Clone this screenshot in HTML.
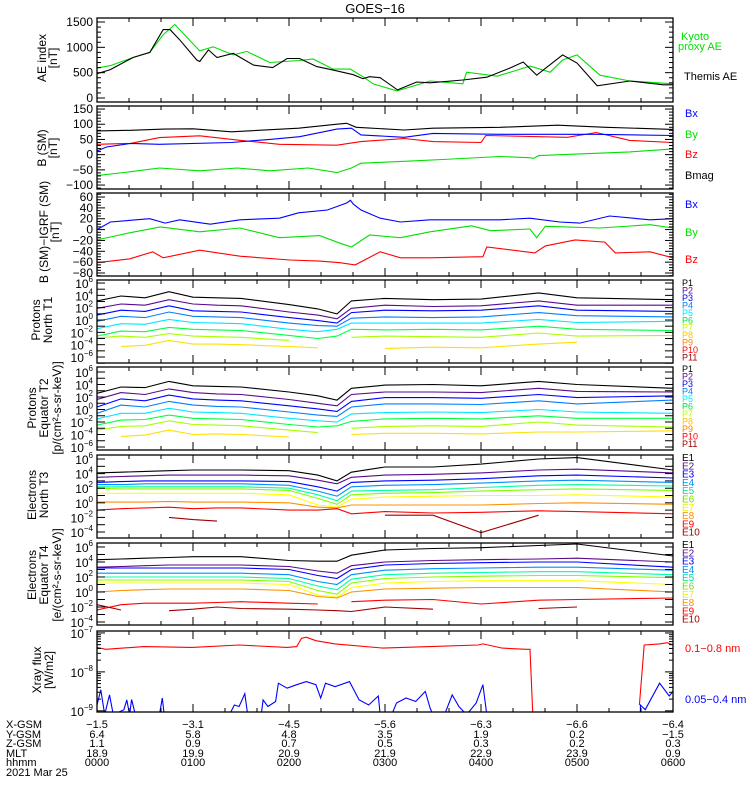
<!DOCTYPE html>
<html><head><meta charset="utf-8"><style>
html,body{margin:0;padding:0;background:#fff;}
svg{display:block;font-family:"Liberation Sans",sans-serif;}
</style></head><body>
<svg id="chart" width="750" height="800" viewBox="0 0 750 800" xmlns="http://www.w3.org/2000/svg">
<rect width="750" height="800" fill="#fff"/>
<text x="375" y="13" text-anchor="middle" font-size="13">GOES−16</text>
</svg>
<script>
// ---------- DATA ----------
const hourTicks = ["0000","0100","0200","0300","0400","0500","0600"];
const xgsm = ["−1.5","−3.1","−4.5","−5.6","−6.3","−6.6","−6.4"];
const ygsm = ["6.4","5.8","4.8","3.5","1.9","0.2","−1.5"];
const zgsm = ["1.1","0.9","0.7","0.5","0.3","0.2","0.3"];
const mlt = ["18.9","19.9","20.9","21.9","22.9","23.9","0.9"];

const aeThemisT = [0,.14,.375,.55,.69,.76,.86,1.04,1.07,1.16,1.25,1.42,1.63,1.83,1.98,2.11,2.29,2.46,2.67,2.77,2.84,2.95,3.13,3.33,3.47,3.81,4.06,4.30,4.44,4.58,4.85,5.0,5.21,5.55,5.90,6.0];
const aeThemisV = [480,560,800,900,1350,1350,1150,750,720,950,800,880,650,600,780,780,620,550,460,380,420,400,160,315,300,355,410,590,710,450,850,690,240,335,260,260];
const aeKyotoT = [0,.14,.375,.55,.69,.81,1.07,1.21,1.42,1.56,1.80,2.11,2.25,2.46,2.64,2.77,2.875,3.125,3.47,3.81,3.85,4.17,4.51,4.72,4.85,5.0,5.24,5.55,6.0];
const aeKyotoV = [590,640,800,900,1250,1450,930,1010,850,920,700,740,770,570,570,420,280,140,335,280,510,430,630,510,750,850,450,335,280];

const bmagT = [0,.35,.7,1.0,1.4,2.1,2.5,2.6,2.7,3.2,3.5,4.2,4.8,5.3,6.0];
const bmagV = [78,80,84,85,75,87,100,103,90,81,87,90,97,90,83];
const bxT = [0,.1,.35,.65,1.4,1.8,2.11,2.5,2.65,2.75,3.2,3.5,4.2,5.2,6.0];
const bxV = [12,25,37,34,40,50,59,84,87,65,57,70,67,67,63];
const bzT = [0,.35,.65,1.07,1.5,1.9,2.5,2.75,3.2,3.5,4.0,4.05,4.9,5.2,5.55,6.0];
const bzV = [34,37,56,62,47,34,31,43,53,43,40,63,57,73,47,40];
const byT = [0,.35,.65,1.07,1.46,1.8,2.2,2.5,2.65,2.75,3.2,3.6,4.2,4.5,4.55,4.6,5.55,6.0];
const byV = [-69,-56,-44,-53,-44,-53,-44,-59,-44,-28,-22,-16,-6,-10,-12,-3,9,19];

const dbxT = [0,.14,.55,.71,.86,1.18,1.49,1.9,2.1,2.4,2.6,2.64,2.67,2.75,2.95,3.16,3.47,4.2,4.51,4.82,5.03,5.34,5.76,6.0];
const dbxV = [0,14,20,12,18,10,18,21,31,36,49,54,47,36,21,14,18,18,21,14,12,25,18,20];
const dbyT = [0,.34,.66,1.07,1.49,1.9,2.32,2.53,2.65,2.84,3.16,3.47,3.9,4.1,4.51,4.58,4.67,5.24,5.76,6.0];
const dbyV = [-19,-6,5,-4,3,-15,-11,-25,-32,-10,-15,-4,7,-2,1,-15,6,3,9,3];
const dbzT = [0,.34,.58,.69,1.07,1.49,2.01,2.32,2.53,2.69,2.95,3.16,3.47,4.02,4.06,4.56,4.67,4.98,5.29,5.4,5.76,6.0];
const dbzV = [-61,-54,-41,-52,-38,-49,-56,-58,-61,-65,-41,-52,-52,-50,-32,-43,-30,-19,-23,-43,-41,-52];

const specT = [0,0.25,0.5,0.75,1.0,1.25,1.5,2.0,2.3,2.5,2.65,3.0,3.5,4.0,4.6,5.0,6.0];
// Protons North T1 (log10 flux)
const pn1 = [3.1,3.9,3.6,4.6,3.7,3.6,3.5,2.5,1.8,1.0,3.1,3.5,3.3,3.4,4.4,3.6,3.3];
const pn2 = [1.9,2.6,2.4,3.3,2.6,2.4,2.3,1.3,0.8,0.2,1.9,2.4,2.2,2.3,3.1,2.4,2.4];
const pn3 = [0.8,1.6,1.4,2.3,1.5,1.4,1.3,0.4,-0.1,-0.5,1.2,1.6,1.5,1.6,2.3,1.6,1.4];
const pn4 = [-0.2,0.6,0.4,1.3,0.6,0.5,0.4,-0.5,-0.9,-1.0,0.3,0.5,0.4,0.5,1.2,0.7,0.5];
const pn5 = [-1.4,-0.6,-0.7,0.1,-0.4,-0.5,-0.6,-1.5,-1.9,-1.5,-0.5,-0.5,-0.5,-0.5,0.1,-0.4,-0.2];
const pn6 = [-2.6,-1.8,-1.9,-1.2,-1.5,-1.6,-1.7,-2.5,-3.0,-2.6,-1.5,-1.6,-1.5,-1.6,-1.0,-1.5,-1.7];
const pn7 = [-2.9,-2.6,-2.8,-2.2,-2.6,-2.7,-2.8,-3.3,null,null,-2.8,-2.6,-2.7,-2.8,-2.1,-2.6,-2.5];
const pn8 = [null,-4.3,-4.1,-3.3,-3.9,-3.9,-4.0,-4.3,-4.5,null,null,-4.6,-4.4,-4.5,-3.9,-3.6,null];
// Protons Equator T2
const pe1 = [2.6,3.6,3.5,4.5,3.8,3.7,3.6,2.8,2.2,1.5,3.4,3.9,4.0,3.8,4.5,4.0,3.4];
const pe2 = [1.6,2.7,2.4,3.3,2.7,2.5,2.4,1.6,1.0,0.6,2.4,2.8,2.8,2.7,3.4,2.9,2.8];
const pe3 = [0.4,1.7,1.4,2.3,1.7,1.5,1.4,0.6,0.1,-0.3,1.3,1.9,1.9,1.8,2.4,1.9,2.2];
const pe4 = [-0.6,0.7,0.4,1.3,0.7,0.5,0.4,-0.4,-0.9,-1.1,0.4,0.9,0.9,0.8,1.4,0.9,1.5];
const pe5 = [-1.5,-0.6,-0.6,0.2,-0.4,-0.5,-0.6,-1.4,-1.8,-2.0,-0.7,-0.5,-0.4,-0.5,0.0,-0.4,-0.6];
const pe6 = [-2.5,-1.7,-1.6,-0.9,-1.4,-1.5,-1.6,-2.4,-2.8,-2.6,-1.9,-1.5,-1.4,-1.5,-1.0,-1.4,-1.4];
const pe7 = [-3.3,-2.7,-2.6,-1.8,-2.4,-2.5,-2.6,-3.3,-3.7,null,-3.0,-2.7,-2.6,-2.7,-2.0,-2.5,-2.8];
const pe8 = [null,-4.3,-4.1,-3.3,-4.0,-3.9,-4.0,-4.4,null,null,-4.0,-3.8,-3.8,-3.9,-3.6,-3.6,-3.4];
// Electrons North T3
const en1 = [4.1,4.2,4.3,4.4,4.5,4.5,4.5,4.4,3.8,3.0,4.2,4.9,4.9,5.3,6.0,6.2,4.5];
const en2 = [3.5,3.6,3.7,3.8,3.8,3.8,3.8,3.7,3.1,2.6,3.5,3.8,3.9,4.1,4.5,4.6,4.1];
const en3 = [2.8,2.9,3.0,3.0,3.0,3.0,3.0,2.9,2.2,1.6,2.8,3.0,3.1,3.3,3.7,3.8,3.4];
const en4 = [2.5,2.5,2.6,2.6,2.6,2.6,2.6,2.4,1.6,0.9,2.2,2.4,2.5,2.7,3.0,3.1,2.8];
const en5 = [2.2,2.2,2.2,2.2,2.2,2.2,2.2,2.0,1.1,0.3,1.6,1.7,1.8,2.1,2.4,2.5,2.3];
const en6 = [2.0,1.9,1.9,1.9,1.9,1.9,1.9,1.7,0.6,-0.2,1.1,1.3,1.4,1.6,1.8,1.9,1.7];
const en7 = [1.3,1.3,1.3,1.3,1.3,1.3,1.3,1.1,-0.3,-0.6,0.5,0.8,0.9,1.0,1.0,1.1,0.8];
const en8 = [0.1,0.1,0.1,0.2,0.1,0.1,0.1,0.0,-0.6,-0.7,-0.3,-0.3,-0.3,-0.3,-0.1,0.0,-0.2];
const en9 = [-1.0,-0.8,-0.7,-0.6,-0.8,-0.7,-0.7,-1.0,-1.0,-0.8,-1.5,-1.2,-1.4,-1.3,-1.1,-1.2,-1.5];
const en10 = [null,null,null,-2.0,-2.3,-2.5,null,-1.7,null,null,null,-1.7,-1.7,-4.1,-1.7,null,null];
// Electrons Equator T4
const ee1 = [4.3,4.4,4.5,4.6,4.7,4.7,4.7,4.2,4.1,4.1,4.9,5.6,5.8,5.9,6.2,6.4,4.8];
const ee2 = [3.3,3.4,3.5,3.6,3.6,3.6,3.6,3.4,2.8,2.5,3.5,4.0,4.2,4.3,4.4,4.5,4.0];
const ee3 = [3.2,3.2,3.2,3.2,3.2,3.2,3.2,3.0,2.2,1.8,3.0,3.6,3.8,3.9,4.0,4.0,3.3];
const ee4 = [2.5,2.5,2.5,2.5,2.5,2.5,2.5,2.3,1.4,1.0,2.3,2.9,3.1,3.2,3.3,3.3,2.9];
const ee5 = [2.0,2.0,2.0,2.0,2.0,2.0,2.0,1.8,0.8,0.3,1.7,2.3,2.5,2.6,2.7,2.7,2.3];
const ee6 = [1.6,1.6,1.6,1.6,1.6,1.6,1.6,1.4,0.2,-0.3,1.2,1.8,2.0,2.1,2.2,2.2,1.9];
const ee7 = [1.2,1.2,1.2,1.2,1.2,1.2,1.2,1.0,-0.4,-0.7,0.6,1.2,1.4,1.5,1.5,1.5,1.0];
const ee8 = [0.0,0.2,0.3,0.4,0.4,0.4,0.4,0.2,-0.6,-0.8,0.0,0.4,0.5,0.6,0.6,0.6,0.0];
const ee9 = [-2.4,-1.7,-1.5,-1.5,-1.5,-1.4,-1.3,-1.5,-1.6,null,-1.3,-1.1,-1.0,-1.6,-1.1,-1.0,-0.8];
const ee10 = [-1.7,-2.4,null,-2.5,-2.3,-2.0,-2.2,-2.3,-2.4,-2.5,-2.6,-2.0,-2.3,null,-2.2,-2.0,null];

// X-ray (log10 W/m2)
const xlongT = [0,.09,.49,.99,1.48,1.98,2.08,2.13,2.18,2.28,2.48,2.98,3.47,3.97,4.02,4.22,4.47,4.51,4.54,null,5.65,5.70,5.86,5.94,6.0];
const xlongV = [-7.37,-7.42,-7.35,-7.37,-7.31,-7.37,-7.35,-7.14,-7.11,-7.2,-7.28,-7.39,-7.35,-7.31,-7.28,-7.39,-7.42,-7.42,-9.1,null,-8.85,-7.31,-7.28,-7.25,-7.31];
const xshortT = [0,.04,.08,.13,.17,.28,.31,.34,.36,.40,.65,.68,.70,1.38,1.43,1.48,1.54,1.57,1.71,1.73,1.78,1.86,1.89,1.98,2.08,2.18,2.28,2.33,2.38,2.48,2.63,2.73,2.83,2.93,2.95,3.07,3.12,3.22,3.32,3.42,3.47,3.50,3.62,3.70,3.77,3.85,3.95,4.02,4.06,5.66,5.66,5.71,5.86,5.96,6.0];
const xshortV = [-8.85,-8.46,-9.1,-8.59,-9.1,-8.97,-8.72,-9.1,-8.71,-9.1,-9.1,-8.67,-9.1,-9.1,-8.85,-8.89,-8.56,-9.1,-9.1,-8.72,-8.89,-8.76,-8.29,-8.42,-8.33,-8.25,-8.33,-8.67,-8.29,-8.38,-8.25,-8.72,-8.85,-8.62,-9.1,-9.1,-8.80,-8.67,-8.76,-8.5,-8.93,-9.1,-9.1,-8.59,-8.89,-9.1,-8.80,-8.33,-9.1,-9.1,-8.85,-8.97,-8.29,-8.62,-8.5];

// ---------- RENDER ----------
const NS = "http://www.w3.org/2000/svg";
const svg = document.getElementById("chart");
const X0 = 97, X1 = 673;
const xs = t => X0 + (X1 - X0) * t / 6;
function el(tag, attrs, parent) {
  const e = document.createElementNS(NS, tag);
  for (const k in attrs) e.setAttribute(k, attrs[k]);
  (parent || svg).appendChild(e);
  return e;
}
function mkPanel(name, top, bottom, vmin, vmax) {
  const g = el("g", {});
  
  
  const cp = el("clipPath", {id: "cp-" + name}, g);
  el("rect", {x: X0, y: top, width: X1 - X0, height: bottom - top}, cp);
  const y = v => bottom - (v - vmin) / (vmax - vmin) * (bottom - top);
  return {g, top, bottom, vmin, vmax, y, name};
}
function frame(p) {
  const r = el("rect", {x: X0, y: p.top, width: X1 - X0, height: p.bottom - p.top, fill: "none", stroke: "#000", "stroke-width": 1.3}, p.g);
  
  
  // x ticks (every 20 min)
  for (let i = 0; i <= 18; i++) {
    const x = xs(i / 3), L = (i % 3 === 0) ? 8 : 4;
    el("line", {x1: x, x2: x, y1: p.top, y2: p.top + L, stroke: "#000"}, p.g);
    el("line", {x1: x, x2: x, y1: p.bottom, y2: p.bottom - L, stroke: "#000"}, p.g);
  }
}
function ytick(p, v, L) {
  const y = p.y(v);
  if (y < p.top - 0.5 || y > p.bottom + 0.5) return;
  el("line", {x1: X0, x2: X0 + L, y1: y, y2: y, stroke: "#000"}, p.g);
  el("line", {x1: X1, x2: X1 - L, y1: y, y2: y, stroke: "#000"}, p.g);
}
function ylabel(p, v, txt) {
  const t = el("text", {x: X0 - 4, y: p.y(v) + 4, "text-anchor": "end", "font-size": 12}, p.g);
  t.textContent = txt;
  
  
}
function ypow(p, e) {
  const t = el("text", {x: X0 - 4, y: p.y(e) + 5, "text-anchor": "end", "font-size": 12}, p.g);
  
  
  const a = el("tspan", {}, t); a.textContent = "10";
  const b = el("tspan", {dy: -6, "font-size": 8}, t); b.textContent = String(e).replace("-", "−");
}
function linPanel(p, step, minor, lblStep) {
  for (let v = Math.ceil(p.vmin / minor) * minor; v <= p.vmax; v += minor) {
    const isMaj = Math.abs(v / step - Math.round(v / step)) < 1e-6;
    ytick(p, v, isMaj ? 8 : 4);
  }
  for (let v = Math.ceil(p.vmin / lblStep) * lblStep; v <= p.vmax; v += lblStep) ylabel(p, v, String(v).replace("-", "−"));
}
function logPanel(p, lblEvery, minorTicks) {
  for (let e = Math.floor(p.vmin); e <= Math.ceil(p.vmax); e++) {
    ytick(p, e, 8);
    if (minorTicks) for (let m = 2; m < 10; m++) ytick(p, e + Math.log10(m), 4);
    if (((e % lblEvery) + lblEvery) % lblEvery === 0 && p.y(e) >= p.top - 1 && p.y(e) <= p.bottom + 1) ypow(p, e);
  }
}
function series(p, T, V, color, name) {
  let d = "", pen = false;
  for (let i = 0; i < T.length; i++) {
    if (T[i] === null || V[i] === null) { pen = false; continue; }
    d += (pen ? "L" : "M") + xs(T[i]).toFixed(1) + " " + p.y(V[i]).toFixed(1);
    pen = true;
  }
  const path = el("path", {d, fill: "none", stroke: color, "stroke-width": 1.1, "clip-path": "url(#cp-" + p.name + ")"}, p.g);
  
  
}
function rlabel(txt, x, y, color, size, name) {
  const t = el("text", {x, y, fill: color, "font-size": size || 11});
  t.textContent = txt;
  
  
}
function ytitle(lines, xsArr, cy, name) {
  lines.forEach((ln, i) => {
    const t = el("text", {x: 0, y: 0, "text-anchor": "middle", "font-size": 12, transform: `translate(${xsArr[i]},${cy}) rotate(-90)`});
    t.textContent = ln;
    
    
  });
}

// Panel 1: AE
const p1 = mkPanel("ae-panel", 18, 102, -79, 1579);
series(p1, aeKyotoT, aeKyotoV, "#00e000", "kyoto-ae-line");
series(p1, aeThemisT, aeThemisV, "#000", "themis-ae-line");
linPanel(p1, 500, 100, 500); frame(p1);
ytitle(["AE index", "[nT]"], [46, 57], 58, "ae-axis-title");
rlabel("Kyoto", 681, 40, "#00e000", 11, "legend-kyoto");
rlabel("proxy AE", 678, 50, "#00e000", 11, "legend-proxy-ae");
rlabel("Themis AE", 684, 80, "#000", 11, "legend-themis-ae");

// Panel 2: B SM
const p2 = mkPanel("bsm-panel", 106, 189, -113, 160);
series(p2, byT, byV, "#00e000", "by-line");
series(p2, bzT, bzV, "#ff0000", "bz-line");
series(p2, bxT, bxV, "#0000ff", "bx-line");
series(p2, bmagT, bmagV, "#000", "bmag-line");
linPanel(p2, 50, 10, 50); frame(p2);
ytitle(["B (SM)", "[nT]"], [46, 57], 148, "bsm-axis-title");
rlabel("Bx", 685, 117, "#0000ff", 11, "legend-bx");
rlabel("By", 685, 138, "#00e000", 11, "legend-by");
rlabel("Bz", 685, 158, "#ff0000", 11, "legend-bz");
rlabel("Bmag", 685, 179, "#000", 11, "legend-bmag");

// Panel 3: B - IGRF
const p3 = mkPanel("b-igrf-panel", 193, 276, -85.5, 67.4);
series(p3, dbzT, dbzV, "#ff0000", "dbz-line");
series(p3, dbyT, dbyV, "#00e000", "dby-line");
series(p3, dbxT, dbxV, "#0000ff", "dbx-line");
linPanel(p3, 20, 5, 20); frame(p3);
ytitle(["B (SM)−IGRF (SM)", "[nT]"], [48, 59], 232, "b-igrf-axis-title");
rlabel("Bx", 685, 208, "#0000ff", 11, "legend-dbx");
rlabel("By", 685, 236, "#00e000", 11, "legend-dby");
rlabel("Bz", 685, 263, "#ff0000", 11, "legend-dbz");

const pCols = ["#000","#5a0a8c","#0000ff","#0080ff","#00e8ff","#00ff40","#a8ff00","#ffe000","#ff8000","#ff0000","#a00000"];
const pLblCols = ["#000","#5a0a8c","#0000ff","#0080ff","#00e8ff","#00e040","#c0ff00","#ffc000","#ff8000","#ff0000","#a00000"];
const eCols = ["#000","#5a0a8c","#0000ff","#0090ff","#00ffa0","#80ff00","#ffff00","#ff9000","#ff0000","#a00000"];
const eLblCols = ["#000","#5a0a8c","#0000ff","#0090ff","#00e0a0","#70e000","#f0f000","#ff9000","#ff0000","#a00000"];

// Panel 4
const p4 = mkPanel("protons-north-panel", 280, 363, -6.97, 6.49);
[pn1,pn2,pn3,pn4,pn5,pn6,pn7,pn8].forEach((s, i) => series(p4, specT, s, pCols[i], "p" + (i + 1) + "-north-line"));
logPanel(p4, 2, false); frame(p4);
ytitle(["Protons", "North T1"], [40, 52], 320, "protons-north-axis-title");
for (let i = 0; i < 11; i++) rlabel("P" + (i + 1), 682, 286 + i * 7.45, pLblCols[i], 9, "legend-p" + (i + 1) + "-north");

// Panel 5
const p5 = mkPanel("protons-equator-panel", 367, 450, -6.48, 6.8);
[pe1,pe2,pe3,pe4,pe5,pe6,pe7,pe8].forEach((s, i) => series(p5, specT, s, pCols[i], "p" + (i + 1) + "-equator-line"));
logPanel(p5, 2, false); frame(p5);
ytitle(["Protons", "Equator T2", "[p/(cm²-s-sr-keV)]"], [36, 48, 61], 408, "protons-equator-axis-title");
for (let i = 0; i < 11; i++) rlabel("P" + (i + 1), 682, 372 + i * 7.5, pLblCols[i], 9, "legend-p" + (i + 1) + "-equator");

// Panel 6
const p6 = mkPanel("electrons-north-panel", 455, 538, -4.82, 6.55);
[en1,en2,en3,en4,en5,en6,en7,en8,en9,en10].forEach((s, i) => series(p6, specT, s, eCols[i], "e" + (i + 1) + "-north-line"));
logPanel(p6, 2, false); frame(p6);
ytitle(["Electrons", "North T3"], [36, 48], 495, "electrons-north-axis-title");
for (let i = 0; i < 10; i++) rlabel("E" + (i + 1), 682, 461 + i * 8.3, eLblCols[i], 10, "legend-e" + (i + 1) + "-north");

// Panel 7
const p7 = mkPanel("electrons-equator-panel", 543, 625, -4.4, 6.53);
[ee1,ee2,ee3,ee4,ee5,ee6,ee7,ee8,ee9,ee10].forEach((s, i) => series(p7, specT, s, eCols[i], "e" + (i + 1) + "-equator-line"));
logPanel(p7, 2, false); frame(p7);
ytitle(["Electrons", "Equator T4", "[e/(cm²-s-sr-keV)]"], [36, 48, 61], 575, "electrons-equator-axis-title");
for (let i = 0; i < 10; i++) rlabel("E" + (i + 1), 682, 548 + i * 8.3, eLblCols[i], 10, "legend-e" + (i + 1) + "-equator");

// Panel 8
const p8 = mkPanel("xray-panel", 631, 712, -9.03, -6.95);
series(p8, xlongT, xlongV, "#ff0000", "xray-long-line");
series(p8, xshortT, xshortV, "#0000ff", "xray-short-line");
logPanel(p8, 1, true); frame(p8);
ytitle(["Xray flux", "[W/m2]"], [41, 53], 670, "xray-axis-title");
rlabel("0.1−0.8 nm", 685, 652, "#ff0000", 11, "legend-xray-long");
rlabel("0.05−0.4 nm", 685, 703, "#0000ff", 11, "legend-xray-short");

// Bottom ephemeris
const rows = [["X-GSM", xgsm, 728], ["Y-GSM", ygsm, 738], ["Z-GSM", zgsm, 747], ["MLT", mlt, 757], ["hhmm", hourTicks, 766]];
rows.forEach(r => {
  rlabel(r[0], 6, r[2], "#000", 11, "row-label-" + r[0].toLowerCase());
  r[1].forEach((v, i) => {
    const t = el("text", {x: xs(i), y: r[2], "text-anchor": "middle", "font-size": 11});
    t.textContent = v;
    
    
  });
});
rlabel("2021 Mar 25", 6, 776, "#000", 11, "date-label");
</script>
</body></html>
